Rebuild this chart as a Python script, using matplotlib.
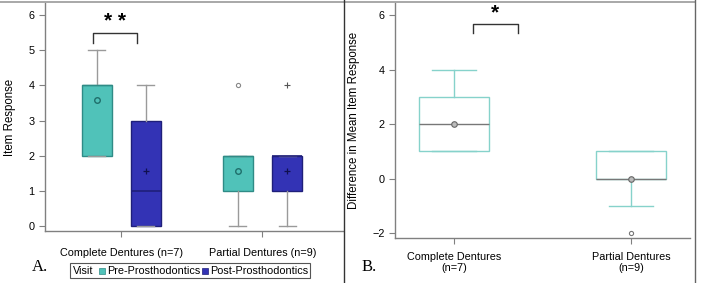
import matplotlib.pyplot as plt
from matplotlib.lines import Line2D
from matplotlib.patches import Rectangle

plt.rcParams["font.family"] = ["Liberation Sans", "DejaVu Sans"]

# Panel A: item response by visit
groups_a = ["Complete Dentures (n=7)", "Partial Dentures (n=9)"]
visits = ["Pre-Prosthodontics", "Post-Prosthodontics"]
# [complete, partial] for each visit
pre_whislo = [2, 0]
pre_q1 = [2, 1]
pre_med = [4, 2]
pre_q3 = [4, 2]
pre_whishi = [5, 2]
pre_mean = [3.57, 1.56]
pre_fliers = [[], [4]]

post_whislo = [0, 0]
post_q1 = [0, 1]
post_med = [1, 2]
post_q3 = [3, 2]
post_whishi = [4, 2]
post_mean = [1.57, 1.56]
post_fliers = [[], [4]]

# Panel B: difference in mean item response
groups_b = ["Complete Dentures\n(n=7)", "Partial Dentures\n(n=9)"]
diff_whislo = [1, -1]
diff_q1 = [1, 0]
diff_med = [2, 0]
diff_q3 = [3, 1]
diff_whishi = [4, 1]
diff_mean = [2, 0]
diff_fliers = [[], [-2]]

teal = "#50c2b9"
teal_edge = "#2f8b86"
blue = "#3333b5"
blue_edge = "#1f1f7a"
grey = "#9a9a9a"
b_edge = "#86d2cb"
fs = 7.8

W, H = 702, 283
fig = plt.figure(figsize=(W / 100, H / 100), dpi=100)


def px_axes(l, t, r, b):
    return fig.add_axes([l / W, 1 - b / H, (r - l) / W, (b - t) / H])


def stats(wl, q1, med, q3, wh, mean, fl):
    return [dict(whislo=a, q1=b, med=c, q3=d, whishi=e, mean=f, fliers=g)
            for a, b, c, d, e, f, g in zip(wl, q1, med, q3, wh, mean, fl)]


def style_axes(ax):
    for s in ["top", "right"]:
        ax.spines[s].set_visible(False)
    for s in ["left", "bottom"]:
        ax.spines[s].set_color("#808080")
        ax.spines[s].set_linewidth(1.0)
    ax.tick_params(colors="#808080", labelcolor="black", labelsize=fs,
                   length=4, width=0.8)


# ---- Panel A ----
axa = px_axes(45, 3, 343, 231)
pos = [1, 2]
off = 0.174
bw = 0.21
axa.bxp(stats(pre_whislo, pre_q1, pre_med, pre_q3, pre_whishi, pre_mean, pre_fliers),
        positions=[p - off for p in pos], widths=bw, patch_artist=True,
        showmeans=True, capwidths=0.12,
        boxprops=dict(facecolor=teal, edgecolor=teal_edge, linewidth=1),
        medianprops=dict(color=teal_edge, linewidth=1),
        whiskerprops=dict(color=grey, linewidth=1),
        capprops=dict(color=grey, linewidth=1),
        meanprops=dict(marker="o", markerfacecolor="none", markeredgecolor="#1f6f6b",
                       markersize=4, markeredgewidth=1),
        flierprops=dict(marker="o", markerfacecolor="none", markeredgecolor="#888888",
                        markersize=3, markeredgewidth=0.8))
axa.bxp(stats(post_whislo, post_q1, post_med, post_q3, post_whishi, post_mean, post_fliers),
        positions=[p + off for p in pos], widths=bw, patch_artist=True,
        showmeans=True, capwidths=0.12,
        boxprops=dict(facecolor=blue, edgecolor=blue_edge, linewidth=1),
        medianprops=dict(color=blue_edge, linewidth=1.2),
        whiskerprops=dict(color=grey, linewidth=1),
        capprops=dict(color=grey, linewidth=1),
        meanprops=dict(marker="+", markeredgecolor="#101050",
                       markersize=5, markeredgewidth=0.9),
        flierprops=dict(marker="+", markeredgecolor="#555555",
                        markersize=4, markeredgewidth=0.8))
axa.set_xlim(0.46, 2.57)
axa.set_ylim(-0.14, 6.34)
axa.set_xticks(pos)
axa.set_xticklabels(groups_a)
axa.set_yticks(range(0, 7))
style_axes(axa)
axa.tick_params(axis="x", pad=8)
axa.set_ylabel("Item Response", fontsize=8.3)
axa.yaxis.set_label_coords(-0.097, 0.5)
# significance bracket
axa.plot([0.80, 0.80, 1.113, 1.113], [5.2, 5.48, 5.48, 5.2], color="#333333", lw=1)
axa.text(0.957, 5.55, "* *", ha="center", va="bottom", fontsize=15, fontweight="bold")

# ---- Panel B ----
axb = px_axes(395, 3, 690, 238)
axb.bxp(stats(diff_whislo, diff_q1, diff_med, diff_q3, diff_whishi, diff_mean, diff_fliers),
        positions=pos, widths=0.4, patch_artist=True, showmeans=True, capwidths=0.25,
        boxprops=dict(facecolor="none", edgecolor=b_edge, linewidth=1),
        medianprops=dict(color="#777777", linewidth=1),
        whiskerprops=dict(color=b_edge, linewidth=1),
        capprops=dict(color=b_edge, linewidth=1),
        meanprops=dict(marker="o", markerfacecolor="#bbbbbb", markeredgecolor="#666666",
                       markersize=4, markeredgewidth=0.8),
        flierprops=dict(marker="o", markerfacecolor="none", markeredgecolor="#777777",
                        markersize=3, markeredgewidth=0.8))
axb.set_xlim(0.667, 2.333)
axb.set_ylim(-2.18, 6.44)
axb.set_xticks(pos)
axb.set_xticklabels(groups_b)
axb.set_yticks([-2, 0, 2, 4, 6])
style_axes(axb)
axb.tick_params(axis="x", pad=6)
axb.set_ylabel("Difference in Mean Item Response", fontsize=8.3)
axb.yaxis.set_label_coords(-0.119, 0.5)
axb.plot([1.107, 1.107, 1.36, 1.36], [5.34, 5.67, 5.67, 5.34], color="#333333", lw=1)
axb.text(1.233, 5.72, "*", ha="center", va="bottom", fontsize=15, fontweight="bold")

# panel letters
fig.text(32 / W, 1 - 267 / H, "A.", fontsize=12, family="Liberation Serif", va="center")
fig.text(362 / W, 1 - 267 / H, "B.", fontsize=12, family="Liberation Serif", va="center")

# legend for panel A
fig.patches.append(Rectangle((70 / W, 1 - 278 / H), 240 / W, 15 / H,
                             transform=fig.transFigure, facecolor="white",
                             edgecolor="#555555", linewidth=0.8))
ly = 1 - 270.5 / H
fig.text(73 / W, ly, "Visit", fontsize=fs, va="center")
fig.add_artist(Line2D([102 / W], [ly], marker="s", markersize=4, color=teal,
                      markeredgecolor=teal_edge, markeredgewidth=0.5,
                      transform=fig.transFigure))
fig.text(107 / W, ly, visits[0], fontsize=fs, va="center")
fig.add_artist(Line2D([205 / W], [ly], marker="s", markersize=4, color=blue,
                      markeredgecolor=blue_edge, markeredgewidth=0.5,
                      transform=fig.transFigure))
fig.text(210 / W, ly, visits[1], fontsize=fs, va="center")

# frame lines
fig.add_artist(Line2D([0, 695 / W], [1 - 1.5 / H, 1 - 1.5 / H], color="#9a9a9a",
                      lw=1.2, transform=fig.transFigure))
fig.add_artist(Line2D([344 / W, 344 / W], [0, 1], color="#333333", lw=1,
                      transform=fig.transFigure))
fig.add_artist(Line2D([695 / W, 695 / W], [0, 1], color="#666666", lw=1,
                      transform=fig.transFigure))

fig.savefig("out.png", dpi=100)
